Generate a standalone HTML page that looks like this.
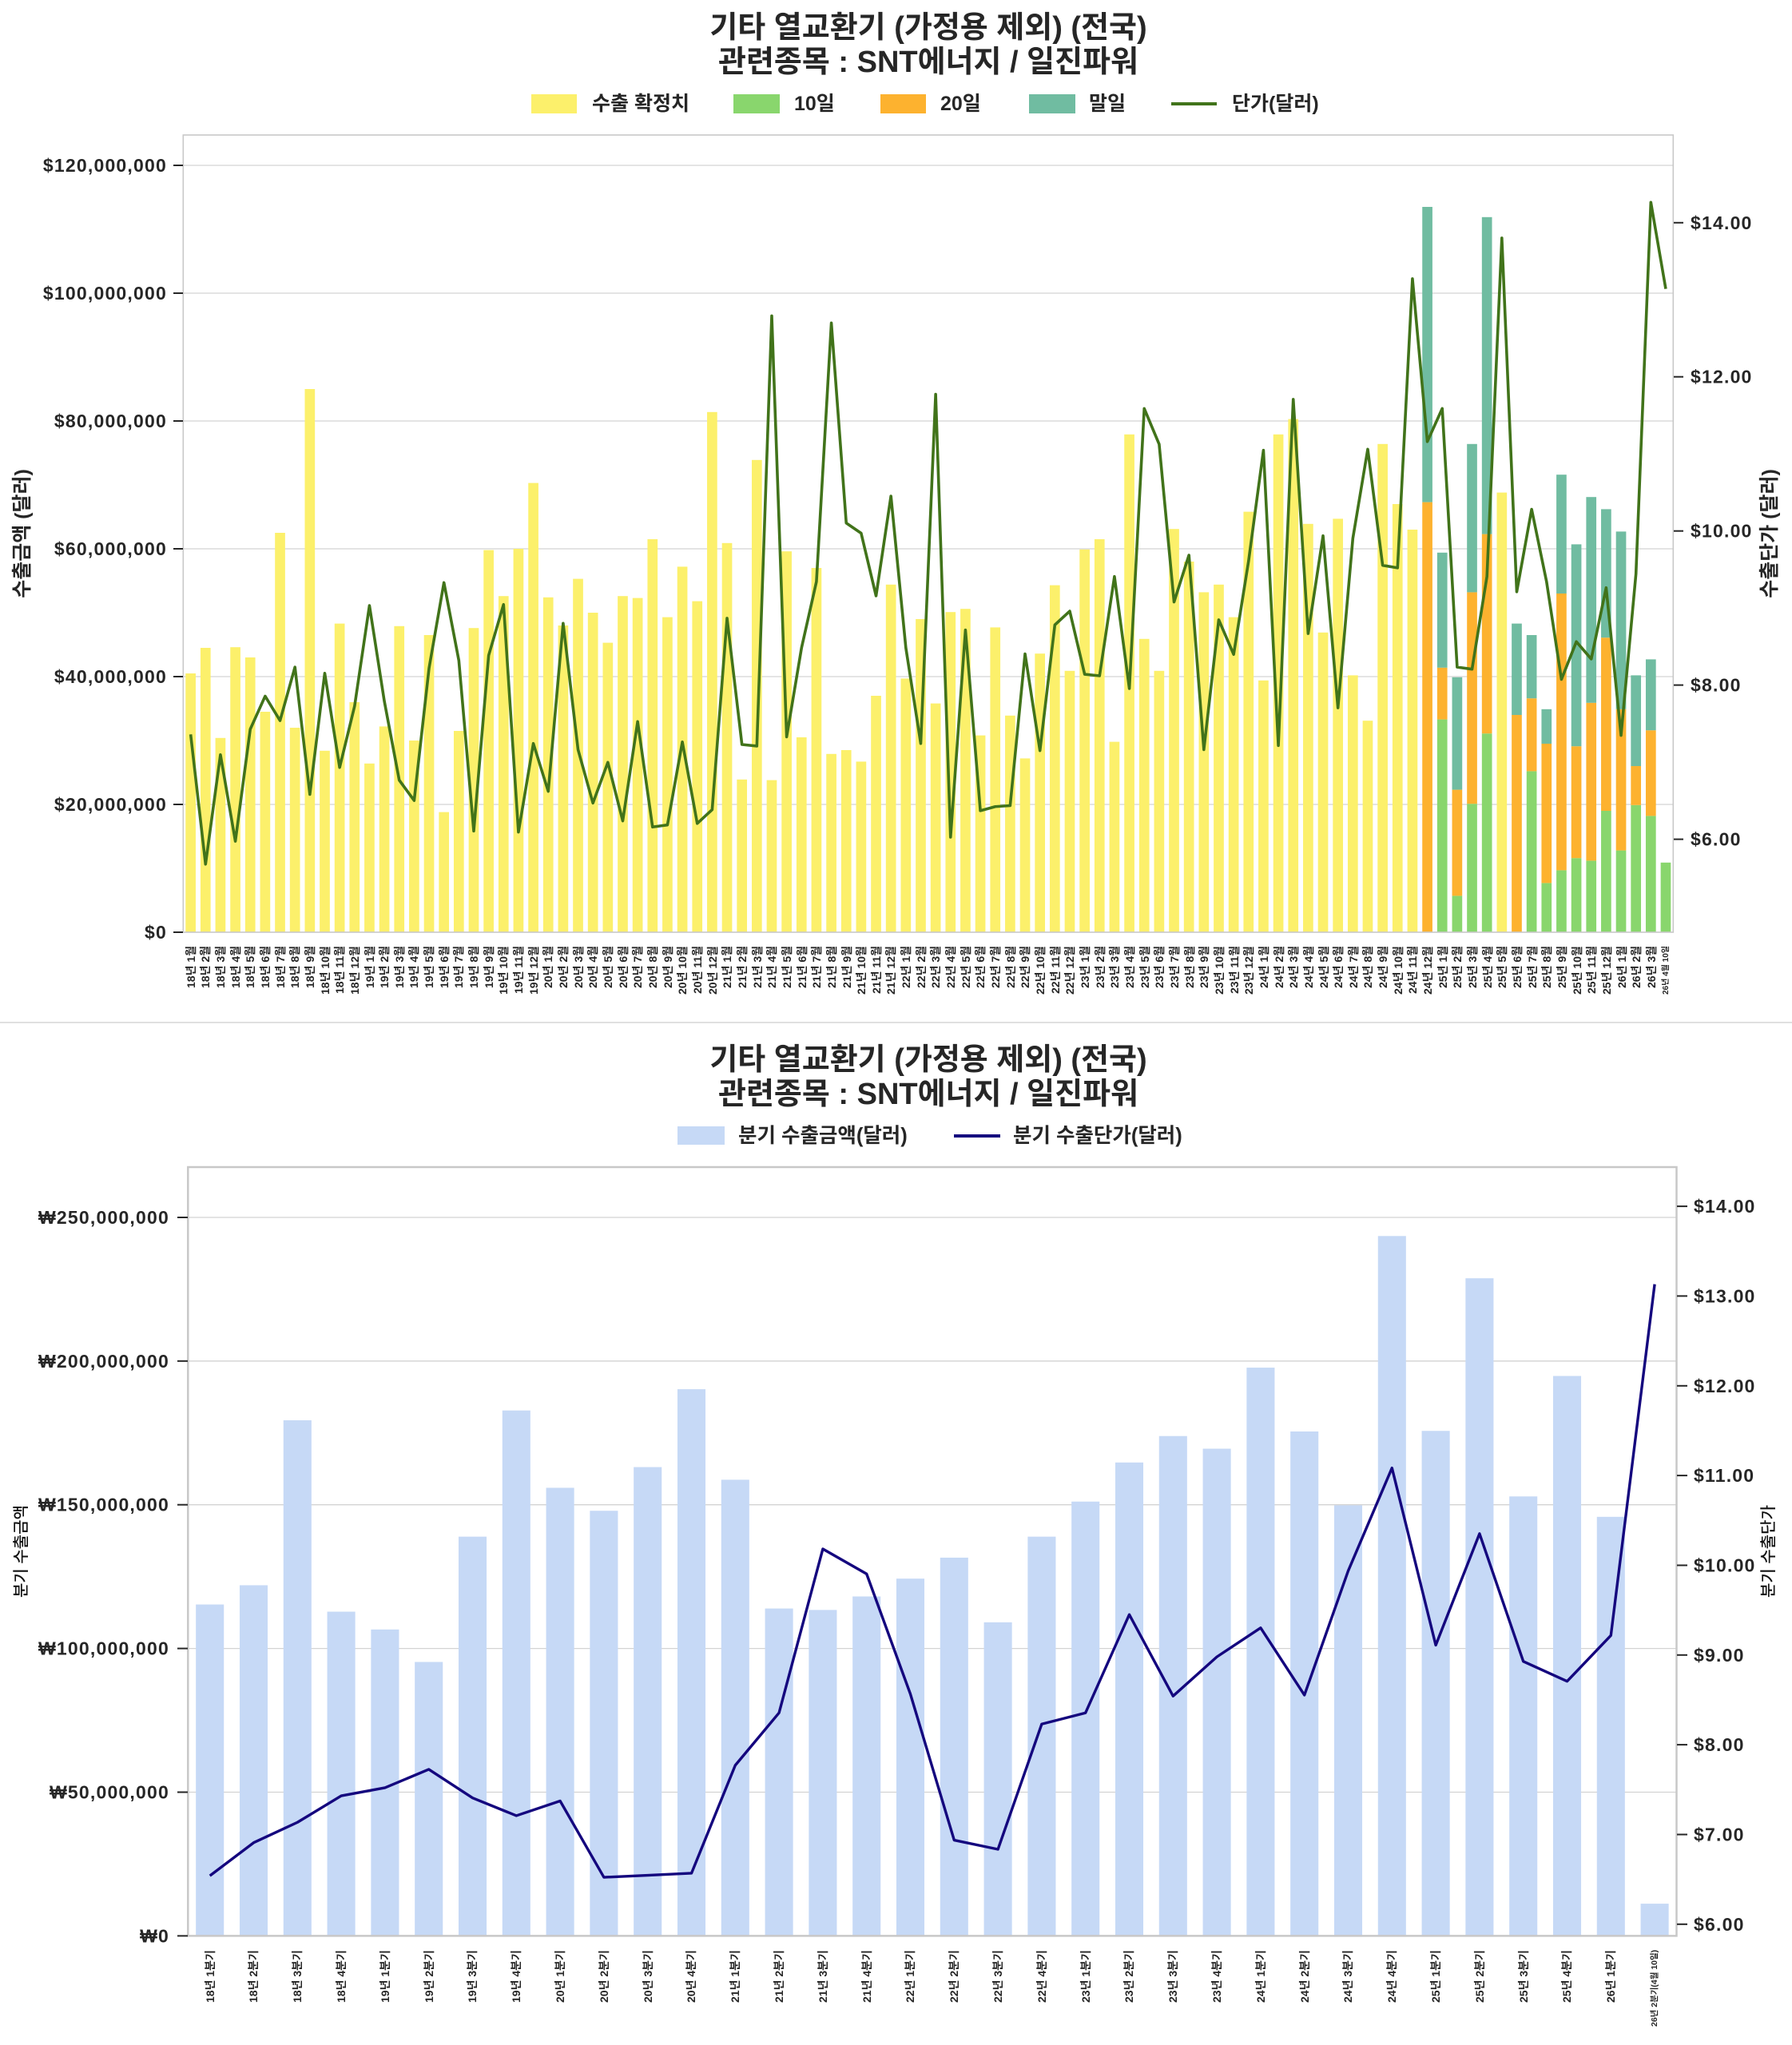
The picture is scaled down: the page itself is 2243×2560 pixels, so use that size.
<!DOCTYPE html>
<html><head><meta charset="utf-8">
<style>
html,body{margin:0;padding:0;background:#fff;}
body{width:2243px;height:2560px;position:relative;overflow:hidden;font-family:"Liberation Sans","Noto Sans CJK KR",sans-serif;}
svg{position:absolute;left:0;top:0;}
svg text{font-family:"Liberation Sans","Noto Sans CJK KR",sans-serif;fill:#262626;}
.xl{position:absolute;display:flex;}
.xl>div{flex:1 1 0;min-width:0;display:flex;justify-content:center;}
.xl span{writing-mode:vertical-rl;text-orientation:sideways;transform:rotate(180deg);text-align:end;white-space:nowrap;line-height:1;font-weight:bold;color:#262626;font-family:"Liberation Sans","Noto Sans CJK KR",sans-serif;}
#xt{left:229.3px;top:1184px;width:1865px;height:80px;}
#xt span{height:80px;font-size:14px;}
#xb{left:235.3px;top:2441px;width:1863.2px;height:110px;}
#xb span{height:110px;font-size:14px;}
#xt span.sm{font-size:10px;}
#xb span.sm{font-size:10.5px;}
</style></head><body>
<svg width="2243" height="2560" viewBox="0 0 2243 2560" xmlns="http://www.w3.org/2000/svg">
<line x1="0" y1="1280" x2="2243" y2="1280" stroke="#e0e0e0" stroke-width="2"/>

<!-- ============ TOP CHART ============ -->
<text x="1162" y="35" text-anchor="middle" dominant-baseline="central" font-size="38" font-weight="bold">기타 열교환기 (가정용 제외) (전국)</text>
<text x="1162" y="78" text-anchor="middle" dominant-baseline="central" font-size="38" font-weight="bold">관련종목 : SNT에너지 / 일진파워</text>

<rect x="665" y="118" width="57" height="24" fill="#fcf06b"/>
<text x="741" y="130" dominant-baseline="central" font-size="25" font-weight="bold">수출 확정치</text>
<rect x="918" y="118" width="58" height="24" fill="#89d66d"/>
<text x="994" y="130" dominant-baseline="central" font-size="25" font-weight="bold">10일</text>
<rect x="1102" y="118" width="57" height="24" fill="#fdb22f"/>
<text x="1177" y="130" dominant-baseline="central" font-size="25" font-weight="bold">20일</text>
<rect x="1288" y="118" width="58" height="24" fill="#70bca1"/>
<text x="1363" y="130" dominant-baseline="central" font-size="25" font-weight="bold">말일</text>
<line x1="1466" y1="130" x2="1523" y2="130" stroke="#41731a" stroke-width="4"/>
<text x="1542" y="130" dominant-baseline="central" font-size="25" font-weight="bold">단가(달러)</text>

<g stroke="#d3d3d3" stroke-width="1.3">
<line x1="229.3" y1="207" x2="2094.3" y2="207"/>
<line x1="229.3" y1="367" x2="2094.3" y2="367"/>
<line x1="229.3" y1="527" x2="2094.3" y2="527"/>
<line x1="229.3" y1="687" x2="2094.3" y2="687"/>
<line x1="229.3" y1="847" x2="2094.3" y2="847"/>
<line x1="229.3" y1="1007" x2="2094.3" y2="1007"/>
</g>

<g transform="translate(229.3,1167) scale(18.65,-8)">
<g fill="#fcf06b">
<rect x="0.16" width=".68" height="40.5"/><rect x="1.16" width=".68" height="44.5"/><rect x="2.16" width=".68" height="30.4"/><rect x="3.16" width=".68" height="44.6"/><rect x="4.16" width=".68" height="43.0"/><rect x="5.16" width=".68" height="34.5"/><rect x="6.16" width=".68" height="62.5"/><rect x="7.16" width=".68" height="32.0"/><rect x="8.16" width=".68" height="85.0"/><rect x="9.16" width=".68" height="28.4"/>
<rect x="10.16" width=".68" height="48.3"/><rect x="11.16" width=".68" height="36.0"/><rect x="12.16" width=".68" height="26.4"/><rect x="13.16" width=".68" height="32.2"/><rect x="14.16" width=".68" height="47.9"/><rect x="15.16" width=".68" height="30.0"/><rect x="16.16" width=".68" height="46.5"/><rect x="17.16" width=".68" height="18.8"/><rect x="18.16" width=".68" height="31.5"/><rect x="19.16" width=".68" height="47.6"/>
<rect x="20.16" width=".68" height="59.8"/><rect x="21.16" width=".68" height="52.6"/><rect x="22.16" width=".68" height="60.0"/><rect x="23.16" width=".68" height="70.3"/><rect x="24.16" width=".68" height="52.4"/><rect x="25.16" width=".68" height="48.0"/><rect x="26.16" width=".68" height="55.3"/><rect x="27.16" width=".68" height="50.0"/><rect x="28.16" width=".68" height="45.3"/><rect x="29.16" width=".68" height="52.6"/>
<rect x="30.16" width=".68" height="52.3"/><rect x="31.16" width=".68" height="61.5"/><rect x="32.16" width=".68" height="49.3"/><rect x="33.16" width=".68" height="57.2"/><rect x="34.16" width=".68" height="51.8"/><rect x="35.16" width=".68" height="81.4"/><rect x="36.16" width=".68" height="60.9"/><rect x="37.16" width=".68" height="23.9"/><rect x="38.16" width=".68" height="73.9"/><rect x="39.16" width=".68" height="23.8"/>
<rect x="40.16" width=".68" height="59.6"/><rect x="41.16" width=".68" height="30.5"/><rect x="42.16" width=".68" height="57.0"/><rect x="43.16" width=".68" height="27.9"/><rect x="44.16" width=".68" height="28.5"/><rect x="45.16" width=".68" height="26.7"/><rect x="46.16" width=".68" height="37.0"/><rect x="47.16" width=".68" height="54.4"/><rect x="48.16" width=".68" height="39.7"/><rect x="49.16" width=".68" height="49.0"/>
<rect x="50.16" width=".68" height="35.8"/><rect x="51.16" width=".68" height="50.1"/><rect x="52.16" width=".68" height="50.6"/><rect x="53.16" width=".68" height="30.8"/><rect x="54.16" width=".68" height="47.7"/><rect x="55.16" width=".68" height="33.9"/><rect x="56.16" width=".68" height="27.2"/><rect x="57.16" width=".68" height="43.6"/><rect x="58.16" width=".68" height="54.3"/><rect x="59.16" width=".68" height="40.9"/>
<rect x="60.16" width=".68" height="59.9"/><rect x="61.16" width=".68" height="61.5"/><rect x="62.16" width=".68" height="29.8"/><rect x="63.16" width=".68" height="77.9"/><rect x="64.16" width=".68" height="45.9"/><rect x="65.16" width=".68" height="40.9"/><rect x="66.16" width=".68" height="63.1"/><rect x="67.16" width=".68" height="58.0"/><rect x="68.16" width=".68" height="53.2"/><rect x="69.16" width=".68" height="54.4"/>
<rect x="70.16" width=".68" height="49.3"/><rect x="71.16" width=".68" height="65.8"/><rect x="72.16" width=".68" height="39.4"/><rect x="73.16" width=".68" height="77.9"/><rect x="74.16" width=".68" height="80.3"/><rect x="75.16" width=".68" height="63.9"/><rect x="76.16" width=".68" height="46.9"/><rect x="77.16" width=".68" height="64.7"/><rect x="78.16" width=".68" height="40.2"/><rect x="79.16" width=".68" height="33.1"/>
<rect x="80.16" width=".68" height="76.4"/><rect x="81.16" width=".68" height="67.0"/><rect x="82.16" width=".68" height="63.0"/><rect x="88.16" width=".68" height="68.8"/>
</g>
<g fill="#89d66d">
<rect x="84.16" width=".68" height="33.3"/><rect x="85.16" width=".68" height="5.7"/><rect x="86.16" width=".68" height="20.1"/><rect x="87.16" width=".68" height="31.1"/>
<rect x="90.16" width=".68" height="25.2"/><rect x="91.16" width=".68" height="7.7"/><rect x="92.16" width=".68" height="9.7"/><rect x="93.16" width=".68" height="11.6"/><rect x="94.16" width=".68" height="11.2"/><rect x="95.16" width=".68" height="19.0"/><rect x="96.16" width=".68" height="12.8"/><rect x="97.16" width=".68" height="19.9"/><rect x="98.16" width=".68" height="18.2"/><rect x="99.16" width=".68" height="10.9"/>
</g>
<g fill="#fdb22f">
<rect x="83.16" y="0" width=".68" height="67.3"/><rect x="84.16" y="33.3" width=".68" height="8.1"/><rect x="85.16" y="5.7" width=".68" height="16.6"/><rect x="86.16" y="20.1" width=".68" height="33.1"/><rect x="87.16" y="31.1" width=".68" height="31.2"/>
<rect x="89.16" y="0" width=".68" height="34.0"/><rect x="90.16" y="25.2" width=".68" height="11.4"/><rect x="91.16" y="7.7" width=".68" height="21.8"/><rect x="92.16" y="9.7" width=".68" height="43.3"/><rect x="93.16" y="11.6" width=".68" height="17.5"/><rect x="94.16" y="11.2" width=".68" height="24.7"/><rect x="95.16" y="19.0" width=".68" height="27.1"/><rect x="96.16" y="12.8" width=".68" height="22.1"/><rect x="97.16" y="19.9" width=".68" height="6.1"/><rect x="98.16" y="18.2" width=".68" height="13.4"/>
</g>
<g fill="#70bca1">
<rect x="83.16" y="67.3" width=".68" height="46.2"/><rect x="84.16" y="41.4" width=".68" height="18.0"/><rect x="85.16" y="22.3" width=".68" height="17.6"/><rect x="86.16" y="53.2" width=".68" height="23.2"/><rect x="87.16" y="62.3" width=".68" height="49.6"/>
<rect x="89.16" y="34.0" width=".68" height="14.3"/><rect x="90.16" y="36.6" width=".68" height="9.9"/><rect x="91.16" y="29.5" width=".68" height="5.4"/><rect x="92.16" y="53.0" width=".68" height="18.6"/><rect x="93.16" y="29.1" width=".68" height="31.6"/><rect x="94.16" y="35.9" width=".68" height="32.2"/><rect x="95.16" y="46.1" width=".68" height="20.1"/><rect x="96.16" y="34.9" width=".68" height="27.8"/><rect x="97.16" y="26.0" width=".68" height="14.2"/><rect x="98.16" y="31.6" width=".68" height="11.1"/>
</g>
</g>

<g transform="translate(229.3,180) scale(18.65,0.6373)">
<polyline fill="none" stroke="#41731a" stroke-width="3.6" vector-effect="non-scaling-stroke" stroke-linejoin="round" points="0.5,1160 1.5,1415 2.5,1200 3.5,1370 4.5,1150 5.5,1085 6.5,1133 7.5,1028 8.5,1278 9.5,1040 10.5,1225 11.5,1105 12.5,907 13.5,1095 14.5,1250 15.5,1290 16.5,1030 17.5,862 18.5,1015 19.5,1350 20.5,1005 21.5,905 22.5,1352 23.5,1178 24.5,1272 25.5,942 26.5,1190 27.5,1295 28.5,1215 29.5,1330 30.5,1135 31.5,1342 32.5,1338 33.5,1175 34.5,1335 35.5,1308 36.5,932 37.5,1180 38.5,1183 39.5,338 40.5,1165 41.5,990 42.5,860 43.5,352 44.5,745 45.5,765 46.5,888 47.5,692 48.5,990 49.5,1178 50.5,492 51.5,1362 52.5,955 53.5,1310 54.5,1302 55.5,1300 56.5,1002 57.5,1192 58.5,945 59.5,918 60.5,1042 61.5,1045 62.5,850 63.5,1070 64.5,520 65.5,590 66.5,900 67.5,808 68.5,1190 69.5,935 70.5,1003 71.5,820 72.5,602 73.5,1182 74.5,502 75.5,962 76.5,770 77.5,1108 78.5,775 79.5,600 80.5,828 81.5,833 82.5,265 83.5,585 84.5,520 85.5,1028 86.5,1032 87.5,850 88.5,185 89.5,880 90.5,718 91.5,860 92.5,1052 93.5,978 94.5,1012 95.5,872 96.5,1162 97.5,845 98.5,115 99.5,285"/>
</g>

<rect x="229.3" y="169" width="1865" height="998" fill="none" stroke="#c8c8c8" stroke-width="1.6"/>

<g stroke="#262626" stroke-width="2">
<line x1="217" y1="207" x2="229" y2="207"/><line x1="217" y1="367" x2="229" y2="367"/><line x1="217" y1="527" x2="229" y2="527"/><line x1="217" y1="687" x2="229" y2="687"/><line x1="217" y1="847" x2="229" y2="847"/><line x1="217" y1="1007" x2="229" y2="1007"/><line x1="217" y1="1167" x2="229" y2="1167"/>
<line x1="2095" y1="278.8" x2="2107" y2="278.8"/><line x1="2095" y1="471.7" x2="2107" y2="471.7"/><line x1="2095" y1="664.7" x2="2107" y2="664.7"/><line x1="2095" y1="857.6" x2="2107" y2="857.6"/><line x1="2095" y1="1050.6" x2="2107" y2="1050.6"/>
</g>
<g font-size="23" font-weight="bold" letter-spacing="1.2">
<text x="209" y="207" text-anchor="end" dominant-baseline="central">$120,000,000</text>
<text x="209" y="367" text-anchor="end" dominant-baseline="central">$100,000,000</text>
<text x="209" y="527" text-anchor="end" dominant-baseline="central">$80,000,000</text>
<text x="209" y="687" text-anchor="end" dominant-baseline="central">$60,000,000</text>
<text x="209" y="847" text-anchor="end" dominant-baseline="central">$40,000,000</text>
<text x="209" y="1007" text-anchor="end" dominant-baseline="central">$20,000,000</text>
<text x="209" y="1167" text-anchor="end" dominant-baseline="central">$0</text>
<text x="2116" y="278.8" dominant-baseline="central">$14.00</text>
<text x="2116" y="471.7" dominant-baseline="central">$12.00</text>
<text x="2116" y="664.7" dominant-baseline="central">$10.00</text>
<text x="2116" y="857.6" dominant-baseline="central">$8.00</text>
<text x="2116" y="1050.6" dominant-baseline="central">$6.00</text>
</g>
<text transform="translate(28,668) rotate(-90)" text-anchor="middle" dominant-baseline="central" font-size="25" font-weight="bold">수출금액 (달러)</text>
<text transform="translate(2215,668) rotate(-90)" text-anchor="middle" dominant-baseline="central" font-size="25" font-weight="bold">수출단가 (달러)</text>

<!-- ============ BOTTOM CHART ============ -->
<text x="1162" y="1327" text-anchor="middle" dominant-baseline="central" font-size="38" font-weight="bold">기타 열교환기 (가정용 제외) (전국)</text>
<text x="1162" y="1370" text-anchor="middle" dominant-baseline="central" font-size="38" font-weight="bold">관련종목 : SNT에너지 / 일진파워</text>

<rect x="848" y="1410" width="59" height="23" fill="#c6d9f6"/>
<text x="924" y="1422" dominant-baseline="central" font-size="25.5" font-weight="bold">분기 수출금액(달러)</text>
<line x1="1194" y1="1422" x2="1252" y2="1422" stroke="#14067e" stroke-width="4"/>
<text x="1268" y="1422" dominant-baseline="central" font-size="25.5" font-weight="bold">분기 수출단가(달러)</text>

<g stroke="#d3d3d3" stroke-width="1.3">
<line x1="235.3" y1="1524" x2="2098.5" y2="1524"/>
<line x1="235.3" y1="1703.8" x2="2098.5" y2="1703.8"/>
<line x1="235.3" y1="1883.7" x2="2098.5" y2="1883.7"/>
<line x1="235.3" y1="2063.6" x2="2098.5" y2="2063.6"/>
<line x1="235.3" y1="2243.5" x2="2098.5" y2="2243.5"/>
</g>

<g transform="translate(235.3,2423.4) scale(54.8,-3.598)" fill="#c6d9f6">
<rect x="0.18" width=".64" height="115.3"/><rect x="1.18" width=".64" height="122.0"/><rect x="2.18" width=".64" height="179.4"/><rect x="3.18" width=".64" height="112.8"/><rect x="4.18" width=".64" height="106.6"/><rect x="5.18" width=".64" height="95.3"/><rect x="6.18" width=".64" height="138.9"/><rect x="7.18" width=".64" height="182.8"/><rect x="8.18" width=".64" height="155.9"/><rect x="9.18" width=".64" height="147.9"/>
<rect x="10.18" width=".64" height="163.1"/><rect x="11.18" width=".64" height="190.2"/><rect x="12.18" width=".64" height="158.7"/><rect x="13.18" width=".64" height="113.9"/><rect x="14.18" width=".64" height="113.4"/><rect x="15.18" width=".64" height="118.1"/><rect x="16.18" width=".64" height="124.3"/><rect x="17.18" width=".64" height="131.6"/><rect x="18.18" width=".64" height="109.1"/><rect x="19.18" width=".64" height="138.9"/>
<rect x="20.18" width=".64" height="151.1"/><rect x="21.18" width=".64" height="164.7"/><rect x="22.18" width=".64" height="173.9"/><rect x="23.18" width=".64" height="169.5"/><rect x="24.18" width=".64" height="197.7"/><rect x="25.18" width=".64" height="175.5"/><rect x="26.18" width=".64" height="149.8"/><rect x="27.18" width=".64" height="243.5"/><rect x="28.18" width=".64" height="175.7"/><rect x="29.18" width=".64" height="228.8"/>
<rect x="30.18" width=".64" height="152.9"/><rect x="31.18" width=".64" height="194.8"/><rect x="32.18" width=".64" height="145.8"/><rect x="33.18" width=".64" height="11.2"/>
</g>

<g transform="translate(235.3,1440) scale(54.8,0.6373)">
<polyline fill="none" stroke="#14067e" stroke-width="3.4" vector-effect="non-scaling-stroke" stroke-linejoin="round" points="0.5,1425 1.5,1360 2.5,1320 3.5,1268 4.5,1252 5.5,1216 6.5,1272 7.5,1307 8.5,1278 9.5,1428 10.5,1424 11.5,1420 12.5,1208 13.5,1105 14.5,783 15.5,832 16.5,1068 17.5,1355 18.5,1373 19.5,1127 20.5,1105 21.5,912 22.5,1072 23.5,995 24.5,938 25.5,1070 26.5,826 27.5,624 28.5,972 29.5,753 30.5,1004 31.5,1043 32.5,953 33.5,263"/>
</g>

<rect x="235.3" y="1461" width="1863.2" height="962.4" fill="none" stroke="#c8c8c8" stroke-width="2.5"/>

<g stroke="#262626" stroke-width="2">
<line x1="222" y1="1524" x2="235" y2="1524"/><line x1="222" y1="1703.8" x2="235" y2="1703.8"/><line x1="222" y1="1883.7" x2="235" y2="1883.7"/><line x1="222" y1="2063.6" x2="235" y2="2063.6"/><line x1="222" y1="2243.5" x2="235" y2="2243.5"/><line x1="222" y1="2423.4" x2="235" y2="2423.4"/>
<line x1="2099" y1="1510.1" x2="2112" y2="1510.1"/><line x1="2099" y1="1622.4" x2="2112" y2="1622.4"/><line x1="2099" y1="1734.8" x2="2112" y2="1734.8"/><line x1="2099" y1="1847.1" x2="2112" y2="1847.1"/><line x1="2099" y1="1959.5" x2="2112" y2="1959.5"/><line x1="2099" y1="2071.8" x2="2112" y2="2071.8"/><line x1="2099" y1="2184.1" x2="2112" y2="2184.1"/><line x1="2099" y1="2296.5" x2="2112" y2="2296.5"/><line x1="2099" y1="2408.8" x2="2112" y2="2408.8"/>
</g>
<g font-size="23" font-weight="bold" letter-spacing="1.2">
<text x="212" y="1524" text-anchor="end" dominant-baseline="central">₩250,000,000</text>
<text x="212" y="1703.8" text-anchor="end" dominant-baseline="central">₩200,000,000</text>
<text x="212" y="1883.7" text-anchor="end" dominant-baseline="central">₩150,000,000</text>
<text x="212" y="2063.6" text-anchor="end" dominant-baseline="central">₩100,000,000</text>
<text x="212" y="2243.5" text-anchor="end" dominant-baseline="central">₩50,000,000</text>
<text x="212" y="2423.4" text-anchor="end" dominant-baseline="central">₩0</text>
<text x="2120" y="1510.1" dominant-baseline="central">$14.00</text>
<text x="2120" y="1622.4" dominant-baseline="central">$13.00</text>
<text x="2120" y="1734.8" dominant-baseline="central">$12.00</text>
<text x="2120" y="1847.1" dominant-baseline="central">$11.00</text>
<text x="2120" y="1959.5" dominant-baseline="central">$10.00</text>
<text x="2120" y="2071.8" dominant-baseline="central">$9.00</text>
<text x="2120" y="2184.1" dominant-baseline="central">$8.00</text>
<text x="2120" y="2296.5" dominant-baseline="central">$7.00</text>
<text x="2120" y="2408.8" dominant-baseline="central">$6.00</text>
</g>
<text transform="translate(27,1942) rotate(-90)" text-anchor="middle" dominant-baseline="central" font-size="20" font-weight="500" style="fill:#111">분기 수출금액</text>
<text transform="translate(2214,1942) rotate(-90)" text-anchor="middle" dominant-baseline="central" font-size="20" font-weight="500" style="fill:#111">분기 수출단가</text>
</svg>

<div class="xl" id="xt">
<div><span>18년 1월</span></div><div><span>18년 2월</span></div><div><span>18년 3월</span></div><div><span>18년 4월</span></div><div><span>18년 5월</span></div><div><span>18년 6월</span></div><div><span>18년 7월</span></div><div><span>18년 8월</span></div><div><span>18년 9월</span></div><div><span>18년 10월</span></div><div><span>18년 11월</span></div><div><span>18년 12월</span></div>
<div><span>19년 1월</span></div><div><span>19년 2월</span></div><div><span>19년 3월</span></div><div><span>19년 4월</span></div><div><span>19년 5월</span></div><div><span>19년 6월</span></div><div><span>19년 7월</span></div><div><span>19년 8월</span></div><div><span>19년 9월</span></div><div><span>19년 10월</span></div><div><span>19년 11월</span></div><div><span>19년 12월</span></div>
<div><span>20년 1월</span></div><div><span>20년 2월</span></div><div><span>20년 3월</span></div><div><span>20년 4월</span></div><div><span>20년 5월</span></div><div><span>20년 6월</span></div><div><span>20년 7월</span></div><div><span>20년 8월</span></div><div><span>20년 9월</span></div><div><span>20년 10월</span></div><div><span>20년 11월</span></div><div><span>20년 12월</span></div>
<div><span>21년 1월</span></div><div><span>21년 2월</span></div><div><span>21년 3월</span></div><div><span>21년 4월</span></div><div><span>21년 5월</span></div><div><span>21년 6월</span></div><div><span>21년 7월</span></div><div><span>21년 8월</span></div><div><span>21년 9월</span></div><div><span>21년 10월</span></div><div><span>21년 11월</span></div><div><span>21년 12월</span></div>
<div><span>22년 1월</span></div><div><span>22년 2월</span></div><div><span>22년 3월</span></div><div><span>22년 4월</span></div><div><span>22년 5월</span></div><div><span>22년 6월</span></div><div><span>22년 7월</span></div><div><span>22년 8월</span></div><div><span>22년 9월</span></div><div><span>22년 10월</span></div><div><span>22년 11월</span></div><div><span>22년 12월</span></div>
<div><span>23년 1월</span></div><div><span>23년 2월</span></div><div><span>23년 3월</span></div><div><span>23년 4월</span></div><div><span>23년 5월</span></div><div><span>23년 6월</span></div><div><span>23년 7월</span></div><div><span>23년 8월</span></div><div><span>23년 9월</span></div><div><span>23년 10월</span></div><div><span>23년 11월</span></div><div><span>23년 12월</span></div>
<div><span>24년 1월</span></div><div><span>24년 2월</span></div><div><span>24년 3월</span></div><div><span>24년 4월</span></div><div><span>24년 5월</span></div><div><span>24년 6월</span></div><div><span>24년 7월</span></div><div><span>24년 8월</span></div><div><span>24년 9월</span></div><div><span>24년 10월</span></div><div><span>24년 11월</span></div><div><span>24년 12월</span></div>
<div><span>25년 1월</span></div><div><span>25년 2월</span></div><div><span>25년 3월</span></div><div><span>25년 4월</span></div><div><span>25년 5월</span></div><div><span>25년 6월</span></div><div><span>25년 7월</span></div><div><span>25년 8월</span></div><div><span>25년 9월</span></div><div><span>25년 10월</span></div><div><span>25년 11월</span></div><div><span>25년 12월</span></div>
<div><span>26년 1월</span></div><div><span>26년 2월</span></div><div><span>26년 3월</span></div><div><span class="sm">26년 4월 10일</span></div>
</div>

<div class="xl" id="xb">
<div><span>18년 1분기</span></div><div><span>18년 2분기</span></div><div><span>18년 3분기</span></div><div><span>18년 4분기</span></div>
<div><span>19년 1분기</span></div><div><span>19년 2분기</span></div><div><span>19년 3분기</span></div><div><span>19년 4분기</span></div>
<div><span>20년 1분기</span></div><div><span>20년 2분기</span></div><div><span>20년 3분기</span></div><div><span>20년 4분기</span></div>
<div><span>21년 1분기</span></div><div><span>21년 2분기</span></div><div><span>21년 3분기</span></div><div><span>21년 4분기</span></div>
<div><span>22년 1분기</span></div><div><span>22년 2분기</span></div><div><span>22년 3분기</span></div><div><span>22년 4분기</span></div>
<div><span>23년 1분기</span></div><div><span>23년 2분기</span></div><div><span>23년 3분기</span></div><div><span>23년 4분기</span></div>
<div><span>24년 1분기</span></div><div><span>24년 2분기</span></div><div><span>24년 3분기</span></div><div><span>24년 4분기</span></div>
<div><span>25년 1분기</span></div><div><span>25년 2분기</span></div><div><span>25년 3분기</span></div><div><span>25년 4분기</span></div>
<div><span>26년 1분기</span></div><div><span class="sm">26년 2분기(4월 10일)</span></div>
</div>
</body></html>
